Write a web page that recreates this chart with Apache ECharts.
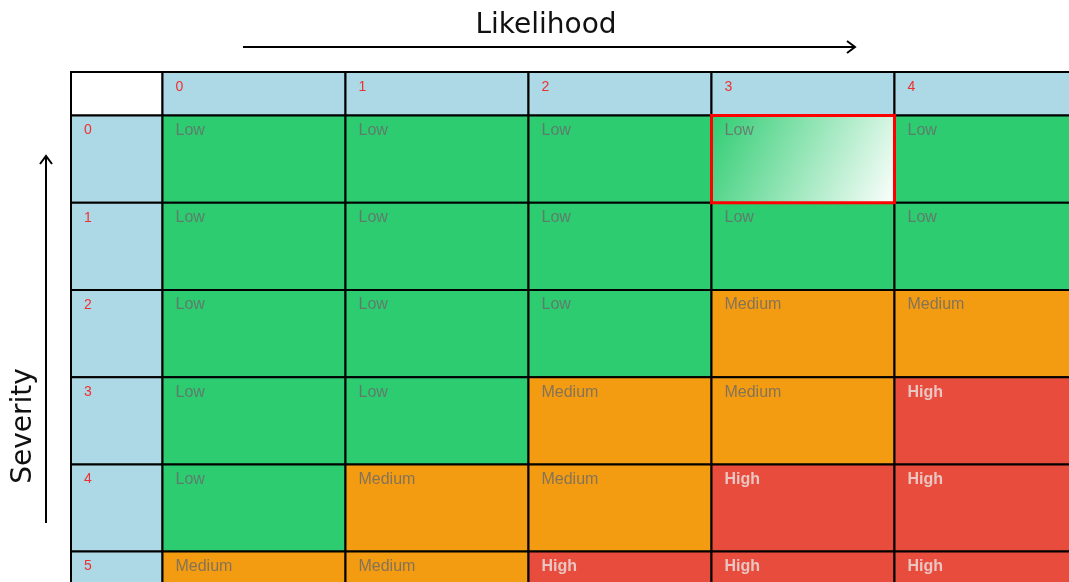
<!DOCTYPE html>
<html>
<head>
<meta charset="utf-8">
<script src="https://cdn.jsdelivr.net/npm/echarts@6/dist/echarts.min.js"></script>
<style>html,body{margin:0;padding:0;background:#fff;}#main{width:1069px;height:582px;}</style>
</head>
<body>
<div id="main"></div>
<script>
// ---- data ----
var likelihood = ['0', '1', '2', '3', '4'];
var severity = ['0', '1', '2', '3', '4', '5'];
var riskRow0 = ['Low', 'Low', 'Low', 'Low', 'Low'];
var riskRow1 = ['Low', 'Low', 'Low', 'Low', 'Low'];
var riskRow2 = ['Low', 'Low', 'Low', 'Medium', 'Medium'];
var riskRow3 = ['Low', 'Low', 'Medium', 'Medium', 'High'];
var riskRow4 = ['Low', 'Medium', 'Medium', 'High', 'High'];
var riskRow5 = ['Medium', 'Medium', 'High', 'High', 'High'];
var riskRows = [riskRow0, riskRow1, riskRow2, riskRow3, riskRow4, riskRow5];
var selectedCell = [3, 0]; // [likelihood, severity]

var levelColor = { Low: '#2ecc71', Medium: '#f39c12', High: '#e74c3c' };

// build items: [x, y, text, kind]
var items = [];
items.push([-0.5, -0.5, '', 'corner']);
likelihood.forEach(function (l, i) { items.push([i, -0.5, l, 'colHead']); });
severity.forEach(function (s, j) { items.push([-0.5, j, s, 'rowHead']); });
riskRows.forEach(function (row, j) {
  row.forEach(function (lvl, i) {
    var sel = (i === selectedCell[0] && j === selectedCell[1]);
    if (!sel) items.push([i, j, lvl, 'cell']);
  });
});
items.push([selectedCell[0], selectedCell[1], riskRows[selectedCell[1]][selectedCell[0]], 'selected']);

var chart = echarts.init(document.getElementById('main'));

function renderItem(params, api) {
  var x = api.value(0), y = api.value(1);
  var item = items[params.dataIndex];
  var text = item[2], kind = item[3];
  var w = (x === -0.5) ? 0.5 : 1;
  var h = (y === -0.5) ? 0.5 : 1;
  var p0 = api.coord([x, y]);
  var p1 = api.coord([x + w, y + h]);
  var rx = Math.min(p0[0], p1[0]), ry = Math.min(p0[1], p1[1]);
  var rw = Math.abs(p1[0] - p0[0]), rh = Math.abs(p1[1] - p0[1]);
  var fill, stroke = '#000', lw = 2, txtColor, fw = 'normal', fs = 16, dy = 7;
  if (kind === 'corner') { fill = '#ffffff'; }
  else if (kind === 'colHead' || kind === 'rowHead') { fill = '#add8e6'; txtColor = '#ee3030'; fs = 14; dy = 8; }
  else {
    fill = levelColor[text];
    if (text === 'High') { txtColor = 'rgba(235,228,228,0.8)'; fw = 'bold'; }
    else { txtColor = 'rgba(105,105,105,0.8)'; }
    if (kind === 'selected') {
      fill = new echarts.graphic.LinearGradient(0, 0, 1, 1, [
        { offset: 0, color: '#2ecc71' },
        { offset: 1, color: '#ffffff' }
      ]);
      stroke = '#ff0000'; lw = 3;
    }
  }
  return {
    type: 'group',
    z2: kind === 'selected' ? 10 : 1,
    children: [
      { type: 'rect', shape: { x: rx, y: ry, width: rw, height: rh },
        style: { fill: fill, stroke: stroke, lineWidth: lw }, z2: kind === 'selected' ? 10 : 1 },
      { type: 'text', x: rx + 13, y: ry + dy, z2: 20,
        style: { text: text, fill: txtColor, font: fw + ' ' + fs + 'px "Liberation Sans", Arial, sans-serif',
                 textAlign: 'left', textVerticalAlign: 'top' } }
    ]
  };
}

chart.setOption({
  backgroundColor: '#ffffff',
  animation: false,
  grid: { left: 71, top: 72, right: 0, bottom: 0, containLabel: false },
  xAxis: { type: 'value', min: -0.5, max: 4.9536, show: false },
  yAxis: { type: 'value', min: -0.5, max: 5.3486, inverse: true, show: false },
  graphic: [
    { type: 'text', x: 546, y: 26, style: { text: 'Likelihood', font: '28px "DejaVu Sans", sans-serif', fill: '#111', textAlign: 'center', textVerticalAlign: 'middle' } },
    { type: 'polyline', shape: { points: [[243, 47], [855, 47]] }, style: { stroke: '#000', lineWidth: 2 } },
    { type: 'polyline', shape: { points: [[847, 41], [855, 47], [847, 53]] }, style: { stroke: '#000', lineWidth: 2, fill: null } },
    { type: 'text', x: 24, y: 426, rotation: Math.PI / 2, style: { text: 'Severity', font: '28px "DejaVu Sans", sans-serif', fill: '#111', textAlign: 'center', textVerticalAlign: 'middle' } },
    { type: 'polyline', shape: { points: [[46, 523], [46, 156]] }, style: { stroke: '#000', lineWidth: 2 } },
    { type: 'polyline', shape: { points: [[40, 164], [46, 156], [52, 164]] }, style: { stroke: '#000', lineWidth: 2, fill: null } }
  ],
  series: [{
    type: 'custom',
    renderItem: renderItem,
    clip: false,
    data: items.map(function (d) { return [d[0], d[1]]; })
  }]
});
</script>
</body>
</html>
